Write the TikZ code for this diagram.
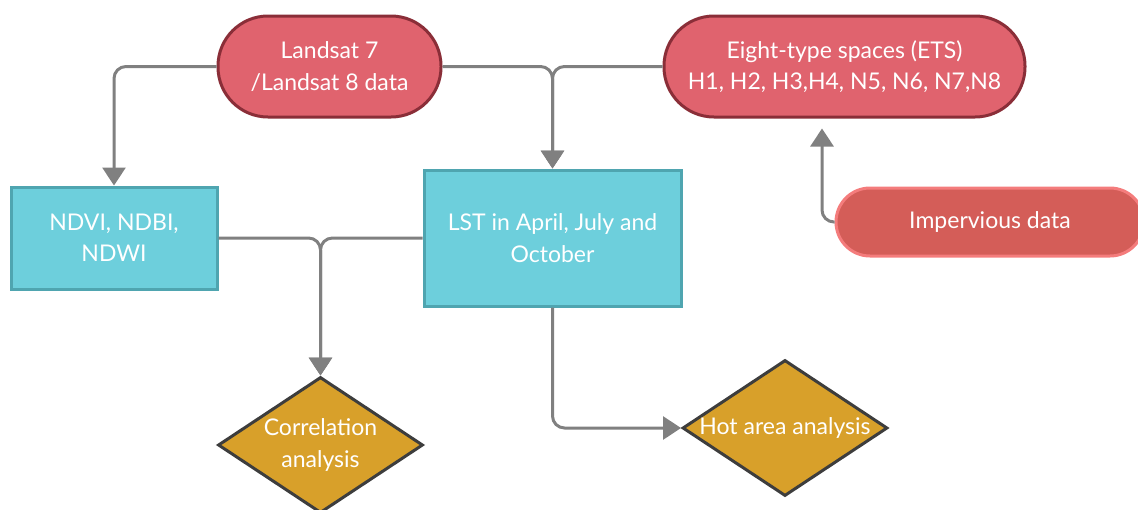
\documentclass[tikz,border=0pt]{standalone}
\usepackage{fontspec}
\setmainfont{Lato}
\usetikzlibrary{shapes.geometric,arrows.meta}

\definecolor{termfill}{HTML}{E0636E}
\definecolor{termedge}{HTML}{8A2E38}
\definecolor{impfill}{HTML}{D45D58}
\definecolor{impedge}{HTML}{F47C7C}
\definecolor{procfill}{HTML}{6DCFDC}
\definecolor{procedge}{HTML}{4FA5B0}
\definecolor{diafill}{HTML}{D8A02A}
\definecolor{diaedge}{HTML}{3D3D3D}
\definecolor{linegray}{HTML}{808080}

\begin{document}
\begin{tikzpicture}[x=1pt,y=-1pt,
  txt/.style={text=white, font=\fontsize{23}{31.5}\selectfont, align=center},
  terminal/.style={txt, draw=termedge, line width=3pt, fill=termfill,
    rounded corners=50pt, inner sep=0pt, minimum height=101pt},
  source/.style={txt, draw=impedge, line width=3pt, fill=impfill,
    rounded corners=34pt, inner sep=0pt, minimum height=68pt},
  procbox/.style={txt, draw=procedge, line width=3pt, fill=procfill,
    inner sep=0pt},
  decision/.style={diamond, draw=diaedge, line width=3pt, fill=diafill,
    inner sep=0pt, minimum width=205pt, minimum height=136pt},
  flow/.style={draw=linegray, line width=3pt, rounded corners=12pt,
    -{Triangle[length=18pt,width=23pt]}}]

\useasboundingbox (0,0) rectangle (1138,509);

% inputs
\node[terminal, minimum width=223pt] (land) at (329.5,66.5)
  {Landsat 7\\/Landsat 8 data};
\node[terminal, minimum width=361pt] (ets) at (844.5,66.5)
  {Eight-type spaces (ETS)\\H1, H2, H3,H4, N5, N6, N7,N8};
\node[source, minimum width=308pt] (imp) at (990,222) {Impervious data};

% processing steps
\node[procbox, minimum width=206pt, minimum height=102pt] (ndvi) at (114,238)
  {NDVI, NDBI,\\NDWI};
\node[procbox, minimum width=257pt, minimum height=136pt] (lst) at (552.5,238)
  {LST in April, July and\\October};

% analyses
\node[decision, label={[txt]center:Correlation\\analysis}] (corr) at (320.5,445) {};
\node[decision, label={[txt]center:Hot area analysis}] (hot) at (785,428) {};

% connectors
\draw[flow] (land.west) -| (ndvi.north);
\draw[flow] (land.east) -| (lst.north);
\draw[flow] (ets.west) -| (lst.north);
\draw[flow] (ndvi.east) -| (corr.north);
\draw[flow] (lst.west) -| (corr.north);
\draw[flow] (lst.south) |- (hot.west);
\draw[flow, shorten >=10pt] (imp.west) -| ([xshift=-22.5pt]ets.south);
\end{tikzpicture}
\end{document}
